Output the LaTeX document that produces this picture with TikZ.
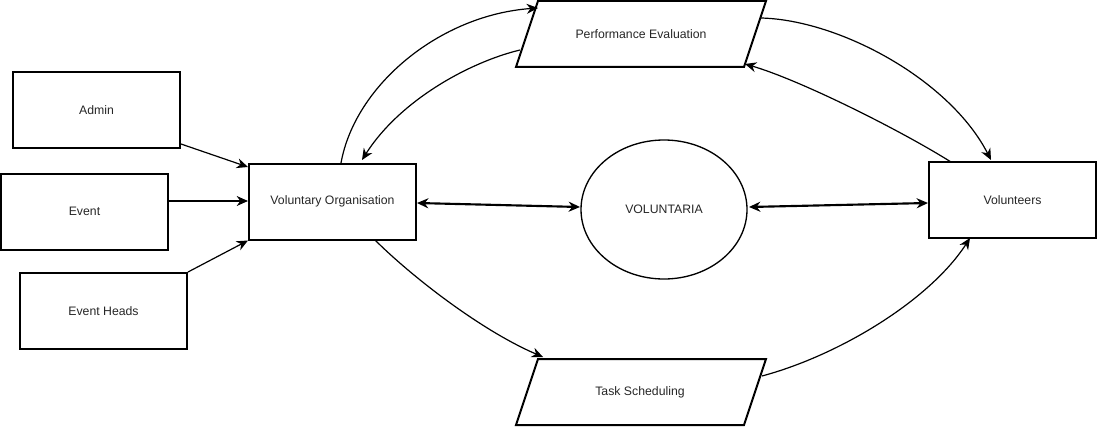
\documentclass[tikz,border=0pt]{standalone}
\usepackage{fontspec}
\setmainfont{Liberation Sans}
\usetikzlibrary{arrows.meta,shapes.geometric}
\begin{document}
\begin{tikzpicture}[x=0.75pt,y=-0.75pt,
  every node/.style={font=\fontsize{9.2}{11}\selectfont, text=black!85},
  box/.style={draw, line width=1.5pt, minimum width=125.25pt, minimum height=57pt, inner sep=0pt},
  conn/.style={line width=0.9pt, -{Stealth[length=8.5pt,width=7.5pt]}},
  thickconn/.style={line width=1.6pt, {Stealth[length=8.5pt,width=7.5pt]}-{Stealth[length=8.5pt,width=7.5pt]}},
  para/.style={line width=1.5pt}]
\useasboundingbox (0,0) rectangle (1098,428);
% rectangles
\node[box] (admin) at (96.5,110) {Admin};
\node[box] (event) at (84.5,211.5) {Event};
\node[box] (heads) at (103.5,311) {Event Heads};
\node[box] (vo) at (332.5,201.5) {Voluntary Organisation};
\node[box] (vols) at (1012.5,200) {Volunteers};
% ellipse
\node[draw, line width=1pt, ellipse, minimum width=124.5pt, minimum height=104.25pt, inner sep=0pt] (vt) at (664,209.5) {VOLUNTARIA};
% parallelograms
\draw[para] (538,1) -- (766,1) -- (744,67) -- (516,67) -- cycle;
\node (pe) at (641,34) {Performance Evaluation};
\draw[para] (538,359) -- (766,359) -- (744,425) -- (516,425) -- cycle;
\node (ts) at (640,392) {Task Scheduling};
% connector end points
\coordinate (peA) at (538,8);
\coordinate (peB) at (520,50);
\coordinate (peC) at (761,18);
\coordinate (peD) at (745,64);
\coordinate (tsA) at (543,357);
\coordinate (tsB) at (762,376);
\coordinate (voT1) at (341,163);
\coordinate (voT2) at (362,160);
\coordinate (voB) at (375,240);
\coordinate (volT1) at (991,160);
\coordinate (volT2) at (951,162);
\coordinate (volB) at (970,238);
% straight connectors
\draw[conn] (admin.south east) ++(0,-5) -- (248,167);
\draw[conn] (event.east |- 0,201) -- (vo.west |- 0,201);
\draw[conn] (heads.north east) -- (vo.south west);
\draw[thickconn] (vo.east |- 0,203) -- (580,207);
\draw[thickconn] (749,207) -- (vols.west |- 0,203);
% curved connectors
\draw[conn] (voT1) .. controls (355,85) and (440,15) .. (peA);
\draw[conn] (peB) .. controls (470,62) and (400,100) .. (voT2);
\draw[conn] (peC) .. controls (840,20) and (950,80) .. (volT1);
\draw[conn] (volT2) .. controls (900,130) and (800,80) .. (peD);
\draw[conn] (voB) .. controls (410,275) and (480,330) .. (tsA);
\draw[conn] (tsB) .. controls (840,355) and (930,300) .. (volB);
\end{tikzpicture}
\end{document}
